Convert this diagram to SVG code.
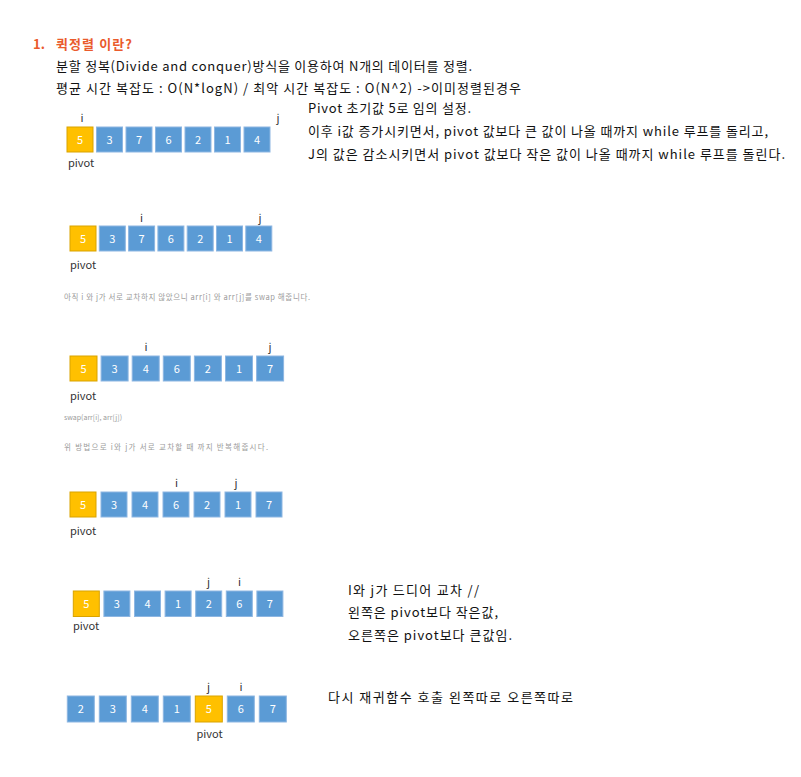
<svg xmlns="http://www.w3.org/2000/svg" width="801" height="777" viewBox="0 0 801 777">
<style>
text{font-family:"Noto Sans CJK KR","Noto Sans",sans-serif}
.t{font-size:13px;fill:#111}
.h{font-size:13px;font-weight:bold;fill:#EA5B2C}
.s{font-size:7.5px;fill:#9a9a9a}
.lbl{font-size:11px;fill:#333;text-anchor:middle}
.pv{font-size:11px;fill:#333}
.b{fill:#5B9BD5;stroke:#8DB6E2;stroke-width:1}
.o{fill:#FFC000;stroke:#D9A300;stroke-width:1}
.n{font-size:11px;fill:#fff;text-anchor:middle}
</style>
<rect width="801" height="777" fill="#fff"/>
<g id="header">
<text class="h" x="33" y="49">1.</text>
<text class="h" x="56" y="49" textLength="76">퀵정렬 이란?</text>
<text class="t" x="56" y="71" textLength="416">분할 정복(Divide and conquer)방식을 이용하여 N개의 데이터를 정렬.</text>
<text class="t" x="56" y="93" textLength="465">평균 시간 복잡도 : O(N*logN) / 최악 시간 복잡도 : O(N^2) -&gt;이미정렬된경우</text>
</g>
<g id="desc1">
<text class="t" x="308" y="113" textLength="163">Pivot 초기값 5로 임의 설정.</text>
<text class="t" x="308" y="136" textLength="460">이후 i값 증가시키면서, pivot 값보다 큰 값이 나올 때까지 while 루프를 돌리고,</text>
<text class="t" x="308" y="159" textLength="477">J의 값은 감소시키면서 pivot 값보다 작은 값이 나올 때까지 while 루프를 돌린다.</text>
</g>
<g id="row1">
<g id="r1c1"><rect class="o" x="67" y="127" width="26" height="25"/><text class="n" x="80" y="144">5</text></g>
<g id="r1c2"><rect class="b" x="96.5" y="127" width="26" height="25"/><text class="n" x="109.5" y="144">3</text></g>
<g id="r1c3"><rect class="b" x="126" y="127" width="26" height="25"/><text class="n" x="139" y="144">7</text></g>
<g id="r1c4"><rect class="b" x="155.5" y="127" width="26" height="25"/><text class="n" x="168.5" y="144">6</text></g>
<g id="r1c5"><rect class="b" x="185" y="127" width="26" height="25"/><text class="n" x="198" y="144">2</text></g>
<g id="r1c6"><rect class="b" x="214.5" y="127" width="26" height="25"/><text class="n" x="227.5" y="144">1</text></g>
<g id="r1c7"><rect class="b" x="244" y="127" width="26" height="25"/><text class="n" x="257" y="144">4</text></g>
<text class="lbl" x="82" y="122">i</text>
<text class="lbl" x="278" y="122">j</text>
<text class="pv" x="68" y="167">pivot</text>
</g>
<g id="row2">
<g id="r2c1"><rect class="o" x="70" y="226" width="26" height="25"/><text class="n" x="83" y="243">5</text></g>
<g id="r2c2"><rect class="b" x="99.3" y="226" width="26" height="25"/><text class="n" x="112.3" y="243">3</text></g>
<g id="r2c3"><rect class="b" x="128.6" y="226" width="26" height="25"/><text class="n" x="141.6" y="243">7</text></g>
<g id="r2c4"><rect class="b" x="157.9" y="226" width="26" height="25"/><text class="n" x="170.9" y="243">6</text></g>
<g id="r2c5"><rect class="b" x="187.2" y="226" width="26" height="25"/><text class="n" x="200.2" y="243">2</text></g>
<g id="r2c6"><rect class="b" x="216.5" y="226" width="26" height="25"/><text class="n" x="229.5" y="243">1</text></g>
<g id="r2c7"><rect class="b" x="245.8" y="226" width="26" height="25"/><text class="n" x="258.8" y="243">4</text></g>
<text class="lbl" x="141.6" y="222">i</text>
<text class="lbl" x="260" y="222">j</text>
<text class="pv" x="70" y="269">pivot</text>
</g>
<text class="s" x="64" y="300" textLength="246">아직 i 와 j가 서로 교차하지 않았으니 arr[i] 와 arr[j]를 swap 해줍니다.</text>
<g id="row3">
<g id="r3c1"><rect class="o" x="70" y="356" width="27" height="25"/><text class="n" x="83.5" y="373">5</text></g>
<g id="r3c2"><rect class="b" x="101.1" y="356" width="27" height="25"/><text class="n" x="114.6" y="373">3</text></g>
<g id="r3c3"><rect class="b" x="132.2" y="356" width="27" height="25"/><text class="n" x="145.7" y="373">4</text></g>
<g id="r3c4"><rect class="b" x="163.3" y="356" width="27" height="25"/><text class="n" x="176.8" y="373">6</text></g>
<g id="r3c5"><rect class="b" x="194.4" y="356" width="27" height="25"/><text class="n" x="207.9" y="373">2</text></g>
<g id="r3c6"><rect class="b" x="225.5" y="356" width="27" height="25"/><text class="n" x="239" y="373">1</text></g>
<g id="r3c7"><rect class="b" x="256.6" y="356" width="27" height="25"/><text class="n" x="270.1" y="373">7</text></g>
<text class="lbl" x="146" y="351">i</text>
<text class="lbl" x="270" y="351">j</text>
<text class="pv" x="70" y="400">pivot</text>
</g>
<text class="s" x="64" y="420" style="font-size:7px">swap(arr[i], arr[j])</text>
<text class="s" x="64" y="450" textLength="204">위 방법으로  i와 j가 서로 교차할 때 까지 반복해줍시다.</text>
<g id="row4">
<g id="r4c1"><rect class="o" x="70" y="492" width="26" height="25"/><text class="n" x="83" y="509">5</text></g>
<g id="r4c2"><rect class="b" x="101" y="492" width="26" height="25"/><text class="n" x="114" y="509">3</text></g>
<g id="r4c3"><rect class="b" x="132" y="492" width="26" height="25"/><text class="n" x="145" y="509">4</text></g>
<g id="r4c4"><rect class="b" x="163" y="492" width="26" height="25"/><text class="n" x="176" y="509">6</text></g>
<g id="r4c5"><rect class="b" x="194" y="492" width="26" height="25"/><text class="n" x="207" y="509">2</text></g>
<g id="r4c6"><rect class="b" x="225" y="492" width="26" height="25"/><text class="n" x="238" y="509">1</text></g>
<g id="r4c7"><rect class="b" x="256" y="492" width="26" height="25"/><text class="n" x="269" y="509">7</text></g>
<text class="lbl" x="176.5" y="487">i</text>
<text class="lbl" x="236" y="487">j</text>
<text class="pv" x="70" y="535">pivot</text>
</g>
<g id="row5">
<g id="r5c1"><rect class="o" x="73.3" y="591" width="26" height="25.5"/><text class="n" x="86.3" y="608">5</text></g>
<g id="r5c2"><rect class="b" x="103.9" y="591" width="26" height="25.5"/><text class="n" x="116.9" y="608">3</text></g>
<g id="r5c3"><rect class="b" x="134.5" y="591" width="26" height="25.5"/><text class="n" x="147.5" y="608">4</text></g>
<g id="r5c4"><rect class="b" x="165.1" y="591" width="26" height="25.5"/><text class="n" x="178.1" y="608">1</text></g>
<g id="r5c5"><rect class="b" x="195.7" y="591" width="26" height="25.5"/><text class="n" x="208.7" y="608">2</text></g>
<g id="r5c6"><rect class="b" x="226.3" y="591" width="26" height="25.5"/><text class="n" x="239.3" y="608">6</text></g>
<g id="r5c7"><rect class="b" x="256.9" y="591" width="26" height="25.5"/><text class="n" x="269.9" y="608">7</text></g>
<text class="lbl" x="208.5" y="586">j</text>
<text class="lbl" x="239.5" y="586">i</text>
<text class="pv" x="73" y="630">pivot</text>
</g>
<g id="desc5">
<text class="t" x="348" y="595" textLength="131">I와 j가 드디어 교차 //</text>
<text class="t" x="348" y="617" textLength="150">왼쪽은 pivot보다 작은값,</text>
<text class="t" x="348" y="640" textLength="164">오른쪽은 pivot보다 큰값임.</text>
</g>
<g id="row6">
<g id="r6c1"><rect class="b" x="67.3" y="696" width="27" height="26"/><text class="n" x="80.8" y="713">2</text></g>
<g id="r6c2"><rect class="b" x="99.3" y="696" width="27" height="26"/><text class="n" x="112.8" y="713">3</text></g>
<g id="r6c3"><rect class="b" x="131.3" y="696" width="27" height="26"/><text class="n" x="144.8" y="713">4</text></g>
<g id="r6c4"><rect class="b" x="163.3" y="696" width="27" height="26"/><text class="n" x="176.8" y="713">1</text></g>
<g id="r6c5"><rect class="o" x="195.3" y="696" width="27" height="26"/><text class="n" x="208.8" y="713">5</text></g>
<g id="r6c6"><rect class="b" x="227.3" y="696" width="27" height="26"/><text class="n" x="240.8" y="713">6</text></g>
<g id="r6c7"><rect class="b" x="259.3" y="696" width="27" height="26"/><text class="n" x="272.8" y="713">7</text></g>
<text class="lbl" x="208.5" y="691">j</text>
<text class="lbl" x="241" y="691">i</text>
<text class="pv" x="196.5" y="738">pivot</text>
</g>
<text class="t" x="328" y="702" textLength="245">다시 재귀함수 호출 왼쪽따로 오른쪽따로</text>
<g id="connectors"/>
</svg>
